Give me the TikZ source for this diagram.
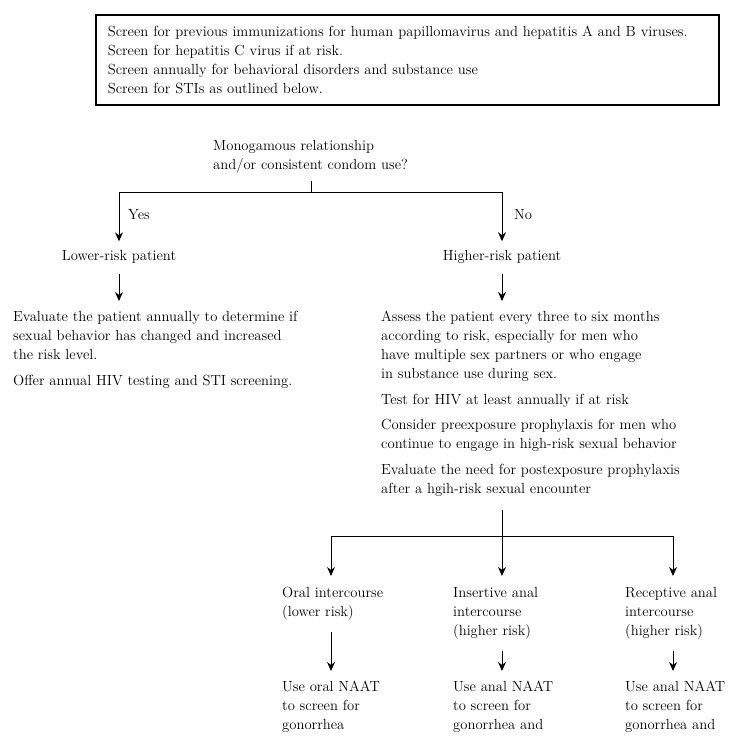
\documentclass[tikz,border=0pt]{standalone}
\usetikzlibrary{arrows.meta}
\begin{document}
\begin{tikzpicture}[x=1pt,y=-1pt,
  txt/.style={font=\fontsize{14.65}{19}\selectfont, inner sep=0pt, align=left},
  arr/.style={-{Stealth[length=9pt,width=8pt]}, line width=1pt},
  ln/.style={line width=1pt}]
\useasboundingbox (0,0) rectangle (742,751);
% top box
\node[draw, line width=1.6pt, minimum width=623pt, minimum height=90pt,
      anchor=north west, inner ysep=0pt, inner xsep=12pt, text width=599pt,
      align=left, font=\fontsize{14.65}{19}\selectfont] (box) at (95,14)
  {Screen for previous immunizations for human papillomavirus and hepatitis A and B viruses.\\
   Screen for hepatitis C virus if at risk.\\
   Screen annually for behavioral disorders and substance use\\
   Screen for STIs as outlined below.};
% question
\node[txt, anchor=north west] (q) at (213,140) {Monogamous relationship\\and/or consistent condom use?};
\coordinate (split1) at (311,193);
\draw[ln] (q.south -| split1) ++(0,8) -- (split1);
\node[txt] (low) at (119,257) {Lower-risk patient};
\node[txt] (high) at (502,257) {Higher-risk patient};
\draw[arr, shorten >=9pt] (split1) -| (low.north);
\draw[arr, shorten >=9pt] (split1) -| (high.north);
\node[txt, anchor=west] (yes) at (128,215) {Yes};
\node[txt, anchor=west] (no) at (514,215) {No};
% left column
\node[txt, anchor=north west] (lowtxt) at (13,311)
  {Evaluate the patient annually to determine if\\
   sexual behavior has changed and increased\\
   the risk level.\\[7pt]
   Offer annual HIV testing and STI screening.};
\draw[arr, shorten <=10pt, shorten >=10pt] (low.south) -- (low.south |- lowtxt.north);
% right column
\node[txt, anchor=north west] (hightxt) at (381,311)
  {Assess the patient every three to six months\\
   according to risk, especially for men who\\
   have multiple sex partners or who engage\\
   in substance use during sex.\\[6.5pt]
   Test for HIV at least annually if at risk\\[6.5pt]
   Consider preexposure prophylaxis for men who\\
   continue to engage in high-risk sexual behavior\\[6.5pt]
   Evaluate the need for postexposure prophylaxis\\
   after a hgih-risk sexual encounter};
\draw[arr, shorten <=10pt, shorten >=10pt] (high.south) -- (high.south |- hightxt.north);
% lower branch
\coordinate (split2) at (502,536);
\coordinate (col1) at (331,536);
\coordinate (col3) at (673,536);
\draw[ln] (split2 |- hightxt.south) ++(0,14) -- (split2);
\node[txt, anchor=north west] (oral) at (282,587) {Oral intercourse\\(lower risk)};
\node[txt, anchor=north west] (ins) at (453,587) {Insertive anal\\intercourse\\(higher risk)};
\node[txt, anchor=north west] (rec) at (625,587) {Receptive anal\\intercourse\\(higher risk)};
\draw[arr, shorten >=11pt] (split2) -| (col1 |- oral.north);
\draw[arr, shorten >=11pt] (split2) -- (split2 |- ins.north);
\draw[arr, shorten >=11pt] (split2) -| (col3 |- rec.north);
\node[txt, anchor=north west] (n1) at (282,681) {Use oral NAAT\\to screen for\\gonorrhea};
\node[txt, anchor=north west] (n2) at (453,681) {Use anal NAAT\\to screen for\\gonorrhea and};
\node[txt, anchor=north west] (n3) at (625,681) {Use anal NAAT\\to screen for\\gonorrhea and};
\draw[arr, shorten <=12pt, shorten >=10pt] (col1 |- oral.south) -- (col1 |- n1.north);
\draw[arr, shorten <=12pt, shorten >=10pt] (split2 |- ins.south) -- (split2 |- n2.north);
\draw[arr, shorten <=12pt, shorten >=10pt] (col3 |- rec.south) -- (col3 |- n3.north);
\end{tikzpicture}
\end{document}
